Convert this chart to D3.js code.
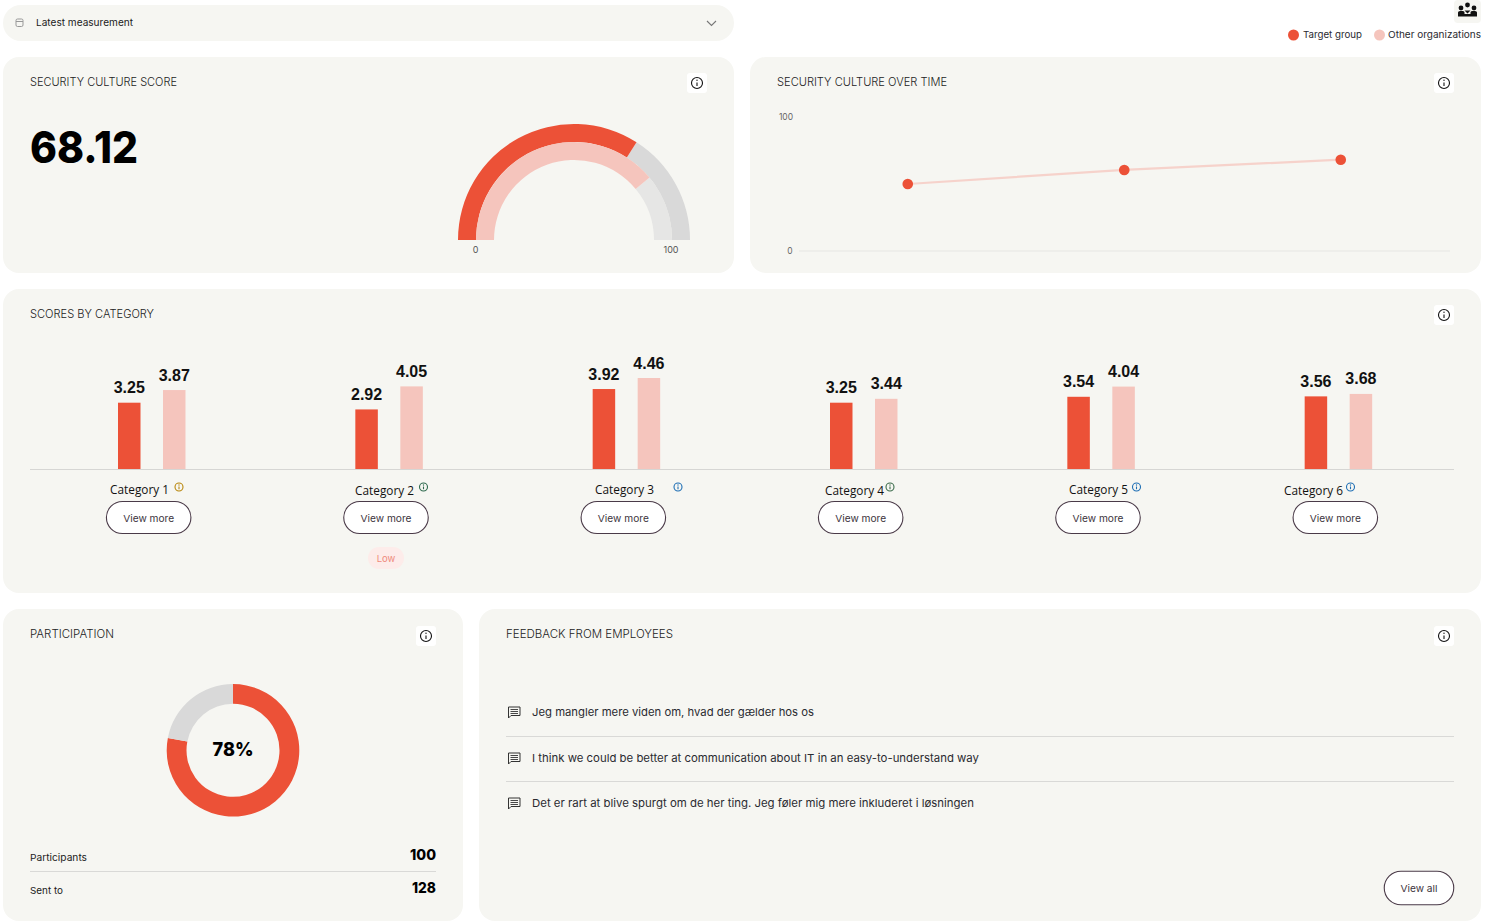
<!DOCTYPE html>
<html>
<head>
<meta charset="utf-8">
<script src="https://cdnjs.cloudflare.com/ajax/libs/d3/7.8.5/d3.min.js"></script>
<style>
  html, body { margin: 0; padding: 0; background: #fff; overflow: hidden; }
  svg { display: block; }
  text { font-family: Inter, "Noto Sans", sans-serif; fill: #1c1c1c; }
</style>
</head>
<body>
<div id="dash"></div>
<script>
// data
const categories = ["Category 1", "Category 2", "Category 3", "Category 4", "Category 5", "Category 6"];
const targetScores = [3.25, 2.92, 3.92, 3.25, 3.54, 3.56];
const otherScores = [3.87, 4.05, 4.46, 3.44, 4.04, 3.68];
const cultureScore = 68.12;
const otherCultureScore = 78;
const overTime = [50, 60.5, 68.12];
const overTimeLabels = ["m1", "m2", "m3"];
const timeTicks = [0, 100];
const participation = [78, 22];
const participants = 100;
const sentTo = 128;
const feedback = [
  "Jeg mangler mere viden om, hvad der gælder hos os",
  "I think we could be better at communication about IT in an easy-to-understand way",
  "Det er rart at blive spurgt om de her ting. Jeg føler mig mere inkluderet i løsningen"
];

const RED = "#ec5137", PINK = "#f5c5bd", PANEL = "#f6f6f2", GREY = "#d9d9d9", LIGHT = "#e6e6e5";

const svg = d3.select("#dash").append("svg").attr("width", 1486).attr("height", 924);

// width-fitted label, the dashboard font is wider than what is installed
function label(g, x, y, str, size, opts = {}) {
  const t = g.append("text").attr("x", x).attr("y", y).text(str)
    .style("font-size", size + "px")
    .style("font-weight", opts.weight || 400)
    .attr("text-anchor", opts.anchor || "start");
  if (opts.family) t.style("font-family", opts.family);
  if (opts.color) t.style("fill", opts.color);
  if (opts.len) t.attr("textLength", opts.len).attr("lengthAdjust", "spacingAndGlyphs");
  return t;
}

function panel(x, y, w, h, r = 16) {
  svg.append("rect").attr("x", x).attr("y", y).attr("width", w).attr("height", h).attr("rx", r).attr("fill", PANEL);
}

function infoIcon(cx, cy, r, boxed, color = "#111") {
  const g = svg.append("g").attr("transform", `translate(${cx},${cy})`);
  if (boxed) g.append("rect").attr("x", -10).attr("y", -10).attr("width", 20).attr("height", 20).attr("rx", 3).attr("fill", "#fff");
  g.append("circle").attr("r", r).attr("fill", "none").attr("stroke", color).attr("stroke-width", 1.1);
  g.append("line").attr("y1", -0.5).attr("y2", r * 0.55).attr("stroke", color).attr("stroke-width", 1.1);
  g.append("circle").attr("cy", -r * 0.5).attr("r", 0.7).attr("fill", color);
}

function button(cx, cy, w, h, str, len) {
  svg.append("rect").attr("x", cx - w / 2).attr("y", cy - h / 2).attr("width", w).attr("height", h)
    .attr("rx", h / 2).attr("fill", "#fff").attr("stroke", "#4a3a48").attr("stroke-width", 1.1);
  label(svg, cx, cy + 4, str, 9.5, { anchor: "middle", len, color: "#3d3540" });
}

// panels
panel(3, 5, 731, 36, 18);
panel(3, 57, 731, 216);
panel(750, 57, 731, 216);
panel(3, 289, 1478, 304);
panel(3, 609, 460, 312);
panel(479, 609, 1002, 312);

// top bar
label(svg, 36, 26, "Latest measurement", 9.5, { len: 97 });
svg.append("rect").attr("x", 16).attr("y", 19).attr("width", 7).attr("height", 7.5).attr("rx", 1.5)
  .attr("fill", "none").attr("stroke", "#999").attr("stroke-width", 1);
svg.append("line").attr("x1", 16).attr("x2", 23).attr("y1", 21.5).attr("y2", 21.5).attr("stroke", "#999");
svg.append("path").attr("d", "M707 21 L711.5 25.5 L716 21").attr("fill", "none").attr("stroke", "#777").attr("stroke-width", 1.1);

// group icon, top right
const grp = svg.append("g");
grp.append("rect").attr("x", 1454).attr("y", 0).attr("width", 27).attr("height", 23).attr("rx", 4).attr("fill", PANEL);
[[1461, 8], [1467.5, 5], [1474, 8]].forEach(([x, y]) => grp.append("circle").attr("cx", x).attr("cy", y).attr("r", 2.4).attr("fill", "#111"));
grp.append("path").attr("d", "M1458 16.5 v-4 q0 -1.5 2 -1.5 h3 q1.5 0 1.5 1.5 v1.5 h6 v-1.5 q0 -1.5 1.5 -1.5 h3 q2 0 2 1.5 v4 Z M1464.5 10.5 h6 l-3 3 Z").attr("fill", "#111");

// legend
const legend = [["Target group", RED, 1293.5, 1303, 59], ["Other organizations", PINK, 1379.5, 1388, 93]];
legend.forEach(([name, col, cx, tx, len]) => {
  svg.append("circle").attr("cx", cx).attr("cy", 35).attr("r", 5.5).attr("fill", col);
  label(svg, tx, 38, name, 9.5, { len, color: "#2a2a30" });
});

// titles and info buttons
[
  ["SECURITY CULTURE SCORE", 30, 86, 147],
  ["SECURITY CULTURE OVER TIME", 777, 86, 170],
  ["SCORES BY CATEGORY", 30, 318, 124],
  ["PARTICIPATION", 30, 638, 84],
  ["FEEDBACK FROM EMPLOYEES", 506, 638, 167]
].forEach(([t, x, y, len]) => label(svg, x, y, t, 11.5, { len, color: "#222", weight: 300 }));
[[697, 83], [1444, 83], [1444, 315], [426, 636], [1444, 636]].forEach(([x, y]) => infoIcon(x, y, 5.5, true));

// score + gauge
label(svg, 30, 163, d3.format(".2f")(cultureScore), 44, { weight: 800, len: 108, color: "#000" });

const gaugeAngle = d3.scaleLinear().domain([0, 100]).range([-Math.PI / 2, Math.PI / 2]);
const gauge = svg.append("g").attr("transform", "translate(574,240)");
const arc = d3.arc();
[
  { inner: 98, outer: 116, value: cultureScore, fill: RED, rest: GREY },
  { inner: 80, outer: 98, value: otherCultureScore, fill: PINK, rest: LIGHT }
].forEach(b => {
  gauge.append("path").attr("fill", b.rest)
    .attr("d", arc({ innerRadius: b.inner, outerRadius: b.outer, startAngle: gaugeAngle(b.value), endAngle: gaugeAngle(100) }));
  gauge.append("path").attr("fill", b.fill)
    .attr("d", arc({ innerRadius: b.inner, outerRadius: b.outer, startAngle: gaugeAngle(0), endAngle: gaugeAngle(b.value) }));
});
label(svg, 475.5, 252.5, "0", 9, { anchor: "middle", color: "#555" });
label(svg, 671, 252.5, "100", 9, { anchor: "middle", color: "#555" });

// line over time
const timeX = d3.scalePoint().domain(overTimeLabels).range([799.5, 1449]).padding(0.5);
const timeY = d3.scaleLinear().domain([0, 100]).range([251, 117]);
svg.append("line").attr("x1", 799).attr("x2", 1450).attr("y1", timeY(0)).attr("y2", timeY(0)).attr("stroke", "#e6e6e3");
timeTicks.forEach(t => label(svg, t === 0 ? 790 : 786, timeY(t) + 2.5, t, 8.5, { anchor: "middle", color: "#666" }));
svg.append("path").datum(overTime)
  .attr("fill", "none").attr("stroke", "#f6d2cb").attr("stroke-width", 2.2)
  .attr("d", d3.line().x((d, i) => timeX(overTimeLabels[i])).y(d => timeY(d)));
svg.append("g").selectAll("circle").data(overTime).enter().append("circle")
  .attr("cx", (d, i) => timeX(overTimeLabels[i])).attr("cy", d => timeY(d)).attr("r", 5.3).attr("fill", RED);

// bars by category
const catX = d3.scaleBand().domain(categories).range([30, 1454]);
const barY = d3.scaleLinear().domain([0, 5]).range([469, 367]);
const series = [
  { values: targetScores, fill: RED, offset: 88 },
  { values: otherScores, fill: PINK, offset: 133 }
];
const BAR_W = 22.5;
series.forEach(s => {
  const g = svg.append("g");
  g.selectAll("rect").data(s.values).enter().append("rect")
    .attr("x", (d, i) => catX(categories[i]) + s.offset)
    .attr("y", d => barY(d)).attr("width", BAR_W).attr("height", d => barY(0) - barY(d)).attr("fill", s.fill);
  g.selectAll("text").data(s.values).enter().append("text")
    .attr("x", (d, i) => catX(categories[i]) + s.offset + BAR_W / 2)
    .attr("y", d => barY(d) - 9.5).attr("text-anchor", "middle").text(d => d3.format(".2f")(d))
    .style("font-family", "'Liberation Sans', Arial, sans-serif").style("font-weight", 700).style("font-size", "16px").style("fill", "#111");
});
svg.append("line").attr("x1", 30).attr("x2", 1454).attr("y1", 469.5).attr("y2", 469.5).attr("stroke", "#d6d6d4");

// per category label, info and button; label offsets vary as in the picture
const labelX = [139.5, 384.5, 624.5, 854.5, 1098.5, 1313.5];
const labelY = [494, 495, 494, 495, 494, 495];
const infoX = [179, 423.5, 678, 890, 1136.5, 1350.5];
const infoCol = ["#b8860b", "#2f6b4f", "#1f6fb5", "#3a6b4a", "#1f6fb5", "#1f6fb5"];
categories.forEach((c, i) => {
  const cx = catX(c) + catX.bandwidth() / 2;
  label(svg, labelX[i], labelY[i], c, 11.8, { anchor: "middle", family: "'Open Sans', sans-serif", color: "#111" });
  infoIcon(infoX[i], 487, 4, false, infoCol[i]);
  button(cx, 517.5, 84.5, 32, "View more", 51);
});

// Low badge under the lowest category
const lowX = catX(categories[targetScores.indexOf(d3.min(targetScores))]) + catX.bandwidth() / 2;
svg.append("rect").attr("x", lowX - 18).attr("y", 547).attr("width", 36).attr("height", 22).attr("rx", 11).attr("fill", "#fdecea");
label(svg, lowX, 561.5, "Low", 9.5, { anchor: "middle", color: "#ef8a7c" });

// participation donut
const donut = svg.append("g").attr("transform", "translate(233,750.3)");
const pieGen = d3.pie().sort(null);
const donutArc = d3.arc().innerRadius(46.5).outerRadius(66.3);
donut.selectAll("path").data(pieGen(participation)).enter().append("path")
  .attr("d", donutArc).attr("fill", (d, i) => i === 0 ? RED : GREY);
label(svg, 233, 756, participation[0] + "%", 19, { anchor: "middle", weight: 800, len: 41, color: "#000" });

label(svg, 30, 860.5, "Participants", 9.5, { len: 57 });
label(svg, 436, 860, participants, 15, { anchor: "end", weight: 800, len: 26, color: "#000" });
svg.append("line").attr("x1", 30).attr("x2", 436).attr("y1", 871.5).attr("y2", 871.5).attr("stroke", "#d9d9d7");
label(svg, 30, 893.5, "Sent to", 9.5, { len: 33 });
label(svg, 436, 893, sentTo, 15, { anchor: "end", weight: 800, len: 24, color: "#000" });

// feedback list
const fbY = [716, 762, 807];
const fbLen = [282, 447, 442];
feedback.forEach((f, i) => {
  label(svg, 532, fbY[i], f, 11, { len: fbLen[i], color: "#2a2a30" });
  const ic = svg.append("g").attr("transform", `translate(508,${fbY[i] - 9.5})`);
  ic.append("path").attr("d", "M0.5 0.5 H12 V9 H3 L0.5 11.5 Z").attr("fill", "none").attr("stroke", "#333").attr("stroke-width", 1);
  [3, 5, 7].forEach(y => ic.append("line").attr("x1", 2.5).attr("x2", 10).attr("y1", y).attr("y2", y).attr("stroke", "#333").attr("stroke-width", 0.9));
});
[736.5, 781.5].forEach(y => svg.append("line").attr("x1", 506).attr("x2", 1454).attr("y1", y).attr("y2", y).attr("stroke", "#d9d9d7"));
button(1419, 888, 69.5, 33.5, "View all", 37);
</script>
</body>
</html>
